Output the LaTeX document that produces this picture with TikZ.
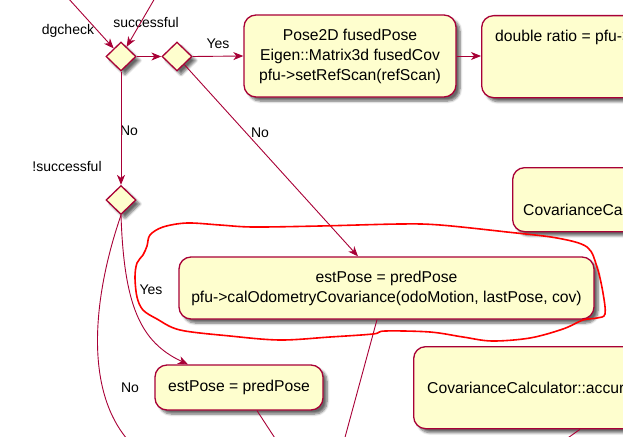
\documentclass[tikz,border=0pt]{standalone}
\usepackage{fontspec}
\setmainfont{Liberation Sans}
\usetikzlibrary{shapes.geometric,arrows.meta,shadows.blur}
\definecolor{pfill}{HTML}{FEFECE}
\definecolor{pline}{HTML}{A80036}
\definecolor{annot}{HTML}{FF0000}
\tikzset{
  shd/.style={blur shadow={shadow xshift=4pt, shadow yshift=-4pt, shadow blur steps=6, shadow blur radius=2.5pt, shadow opacity=60}},
  box/.style={draw=pline, fill=pfill, line width=1.3pt, rounded corners=12pt, inner sep=0pt, shd,
              font=\fontsize{15.7}{20}\selectfont, align=center},
  btext/.style={font=\fontsize{15.7}{20}\selectfont, inner sep=0pt, anchor=west},
  dia/.style={diamond, aspect=1, draw=pline, fill=pfill, line width=1.3pt, minimum width=30pt,
              minimum height=29pt, inner sep=0pt, shd},
  lbl/.style={font=\fontsize{14}{16}\selectfont, inner sep=0pt},
  ln/.style={draw=pline, line width=0.9pt},
  arr/.style={ln, -{Stealth[length=10pt,width=8pt,inset=3pt]}},
}
\begin{document}
\begin{tikzpicture}[x=1pt,y=-1pt]
\useasboundingbox (0,0) rectangle (623,436);
\clip (0,0) rectangle (623,436);

% free ends
\coordinate (in1) at (68,-2);
\coordinate (in2) at (155,-2);
\coordinate (outA) at (140,452);
\coordinate (out4) at (341,452);
\coordinate (out5) at (284,452);
\coordinate (out6) at (548,452);

% nodes
\node[dia] (d1) at (121,56.5) {};
\node[dia] (d2) at (177,56.5) {};
\node[dia] (d3) at (121,200) {};

\node[box, minimum width=212pt, minimum height=82pt] (b1) at (350,56)
  {Pose2D fusedPose\\Eigen::Matrix3d fusedCov\\pfu->setRefScan(refScan)};
\node[box, minimum width=260pt, minimum height=82pt, anchor=north west] (b2) at (481,15) {};
\node[btext] (b2t) at (495,37) {double ratio = pfu->};

\node[box, minimum width=260pt, minimum height=64pt, anchor=north west] (b3) at (512,167) {};
\node[btext] (b3t) at (523,210) {CovarianceCa};

\node[box, minimum width=415pt, minimum height=62pt] (b4) at (386.5,288)
  {estPose = predPose\\pfu->calOdometryCovariance(odoMotion, lastPose, cov)};

\node[box, minimum width=168pt, minimum height=45pt] (b5) at (239,387.5) {estPose = predPose};

\node[box, minimum width=300pt, minimum height=82pt, anchor=north west] (b6) at (413,346) {};
\node[btext] (b6t) at (427,388) {CovarianceCalculator::accur};

% labels
\node[lbl] (l1) at (68,31) {dgcheck};
\node[lbl] (l2) at (146,22) {successful};
\node[lbl] (l3) at (218,44) {Yes};
\node[lbl] (l4) at (129,131) {No};
\node[lbl] (l5) at (67,166) {!successful};
\node[lbl] (l6) at (260,133) {No};
\node[lbl] (l7) at (151,290) {Yes};
\node[lbl] (l8) at (130,388) {No};

% connectors
\draw[arr] (in1) -- (d1);
\draw[arr] (in2) -- (d1);
\draw[arr] (d1.east) -- (d2.west);
\draw[arr] (d2.east) -- (b1.west);
\draw[arr] (b1.east) -- (b2.west |- b1.east);
\draw[arr] (d1.south) -- (d3.north);
\draw[arr] (d2) -- ([xshift=-28.5pt]b4.north);
\draw[ln] (d3.south) .. controls (95,290) and (78,400) .. (outA);
\draw[arr] (d3.south) .. controls (124,305) and (140,342) .. ([xshift=-51pt]b5.north);
\draw[ln] ([xshift=-9.5pt]b4.south) -- (out4);
\draw[ln] ([xshift=18pt]b5.south) -- (out5);
\draw[ln] ([xshift=167pt]b6.south west) -- (out6);

% red hand-drawn annotation
\draw[annot, line width=1.6pt, line join=round] plot[smooth cycle, tension=0.55] coordinates {
  (150,235) (163,227) (187,223) (220,225) (253,227) (320,226) (400,224) (440,225)
  (507,232) (557,238) (587,247) (597,267) (603,293) (605,314) (597,318) (583,320)
  (563,329) (530,338) (492,341) (463,337) (430,332) (385,331) (373,334) (330,337)
  (280,340) (230,336) (180,330) (157,319) (143,310) (137,297) (135,277) (137,263)
  (143,255) (147,246)};
\end{tikzpicture}
\end{document}
